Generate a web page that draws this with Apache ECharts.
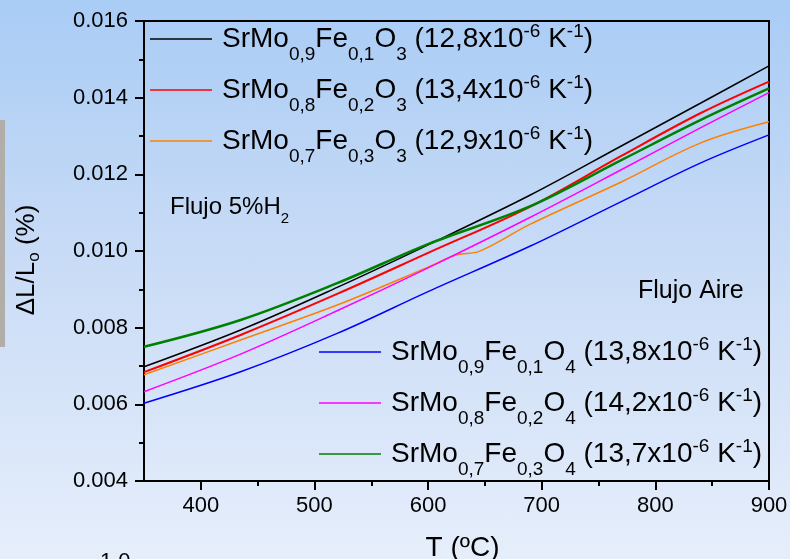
<!DOCTYPE html>
<html><head><meta charset="utf-8">
<script src="https://cdn.jsdelivr.net/npm/echarts@6/dist/echarts.min.js"></script>
<style>html,body{margin:0;padding:0;}#c{width:790px;height:559px;background:linear-gradient(to bottom,#a9ccf5 0%,#c8dbf6 45%,#e6eefb 100%);}</style>
</head><body><div id="c"></div><script>
// Data
const temps = [350, 435, 520, 600, 690, 770, 840, 900];
const tempsOrange = [350, 435, 520, 600, 625, 645, 690, 770, 840, 900];
const black_O3_09 = [0.00698, 0.00794, 0.00905, 0.01016, 0.01146, 0.01274, 0.01386, 0.01483];
const red_O3_08 = [0.00684, 0.00781, 0.00888, 0.00995, 0.01116, 0.01248, 0.01360, 0.01442];
const orange_O3_07 = [0.00677, 0.00768, 0.00859, 0.00958, 0.00990, 0.00999, 0.01070, 0.01180, 0.01282, 0.01337];
const blue_O4_09 = [0.00603, 0.00685, 0.00785, 0.00894, 0.01013, 0.01129, 0.01230, 0.01303];
const magenta_O4_08 = [0.00633, 0.00731, 0.00844, 0.00956, 0.01088, 0.01212, 0.01322, 0.01413];
const green_O4_07 = [0.00750, 0.00820, 0.00916, 0.01018, 0.01117, 0.01237, 0.01342, 0.01424];

const moFrac = ['0,9', '0,8', '0,7'];
const feFrac = ['0,1', '0,2', '0,3'];
const coefO3 = ['12,8', '13,4', '12,9'];
const coefO4 = ['13,8', '14,2', '13,7'];
const xTicks = [400, 500, 600, 700, 800, 900];
const xMinorTicks = [450, 550, 650, 750, 850];

const FONT = "'Liberation Sans', Arial, sans-serif";
function plainName(i, ox, coef) { return 'SrMo' + moFrac[i] + 'Fe' + feFrac[i] + 'O' + ox + ' (' + coef + 'x10-6 K-1)'; }
function richName(i, ox, coef) {
  return '{m|SrMo}{s|' + moFrac[i] + '}{m|Fe}{s|' + feFrac[i] + '}{m|O}{s|' + ox + '}{m| (' + coef + 'x10}{u|-6}{m| K}{u|-1}{m|)}';
}
const richMap = {};
const namesO3 = [0,1,2].map(i => { const n = plainName(i, '3', coefO3[i]); richMap[n] = richName(i, '3', coefO3[i]); return n; });
const namesO4 = [0,1,2].map(i => { const n = plainName(i, '4', coefO4[i]); richMap[n] = richName(i, '4', coefO4[i]); return n; });

function pairs(xs, ys) { return xs.map((x, k) => [x, ys[k]]); }

const legRich = {
  m: { fontSize: 28, fontFamily: FONT, color: '#000', lineHeight: 50 },
  s: { fontSize: 19, fontFamily: FONT, color: '#000', lineHeight: 19, verticalAlign: 'bottom' },
  u: { fontSize: 19, fontFamily: FONT, color: '#000', lineHeight: 38, verticalAlign: 'top', padding: [8, 0, 0, 0] }
};

function mkSeries(name, xs, ys, color, w) {
  return { type: 'line', name: name, data: pairs(xs, ys), xAxisIndex: 0, yAxisIndex: 0,
    symbol: 'none', smooth: 0.35, lineStyle: { color: color, width: w }, itemStyle: { color: color }, silent: true, animation: false };
}

const chart = echarts.init(document.getElementById('c'), null, { renderer: 'canvas' });
const option = {
  backgroundColor: 'transparent',
  animation: false,
  grid: [
    { left: 144, right: 21, top: 21, bottom: 78, show: true, borderColor: '#000', borderWidth: 2, backgroundColor: 'transparent', containLabel: false, outerBoundsMode: 'none' },
    { left: 144, right: 21, top: 21, bottom: 78, show: false, containLabel: false, outerBoundsMode: 'none' }
  ],
  xAxis: [
    { type: 'value', gridIndex: 0, min: 350, max: 900, position: 'bottom',
      axisLine: { show: true, lineStyle: { color: '#000', width: 2 } },
      axisTick: { show: true, customValues: xTicks, length: 9, lineStyle: { color: '#000', width: 2 } },
      axisLabel: { customValues: xTicks, fontSize: 22, color: '#000', fontFamily: FONT, margin: 14 },
      splitLine: { show: false },
      name: 'T (ºC)', nameLocation: 'middle', nameGap: 53, nameMoveOverlap: false,
      nameTextStyle: { fontSize: 28, color: '#000', fontFamily: FONT, padding: [0, 0, 0, 12] } },
    { type: 'value', gridIndex: 1, min: 350, max: 900, position: 'bottom',
      axisLine: { show: false },
      axisTick: { show: true, customValues: xMinorTicks, length: 5, lineStyle: { color: '#000', width: 2 } },
      axisLabel: { show: false }, splitLine: { show: false } }
  ],
  yAxis: [
    { type: 'value', gridIndex: 0, min: 0.004, max: 0.016, interval: 0.002, position: 'left',
      axisLine: { show: true, lineStyle: { color: '#000', width: 2 } },
      axisTick: { show: true, length: 9, lineStyle: { color: '#000', width: 2 } },
      minorTick: { show: true, splitNumber: 2, length: 5, lineStyle: { color: '#000', width: 2 } },
      axisLabel: { fontSize: 22, color: '#000', fontFamily: FONT, margin: 16, formatter: v => v.toFixed(3) },
      splitLine: { show: false },
      name: '{a|ΔL/L}{b|o}{a| (%)}', nameLocation: 'middle', nameGap: 101, nameMoveOverlap: false,
      nameTextStyle: { padding: [0, 18, 0, 0], rich: {
        a: { fontSize: 26, fontFamily: FONT, color: '#000', lineHeight: 32 },
        b: { fontSize: 17, fontFamily: FONT, color: '#000', lineHeight: 10, verticalAlign: 'bottom' } } } },
    { type: 'value', gridIndex: 1, min: 0.004, max: 0.016, interval: 0.002, show: false }
  ],
  legend: [
    { data: namesO3, orient: 'vertical', left: 150, top: 14, padding: 0, itemGap: 1, itemWidth: 62, itemHeight: 1.5, icon: 'rect',
      selectedMode: false, formatter: n => richMap[n], textStyle: { rich: legRich, padding: [0, 0, 0, 5] } },
    { data: namesO4, orient: 'vertical', left: 319, top: 327, padding: 0, itemGap: 1, itemWidth: 62, itemHeight: 1.5, icon: 'rect',
      selectedMode: false, formatter: n => richMap[n], textStyle: { rich: legRich, padding: [0, 0, 0, 5] } }
  ],
  series: [
    mkSeries(namesO3[0], temps, black_O3_09, '#000000', 1.5),
    mkSeries(namesO3[1], temps, red_O3_08, '#ff0000', 2),
    mkSeries(namesO3[2], tempsOrange, orange_O3_07, '#ff8000', 1.5),
    mkSeries(namesO4[0], temps, blue_O4_09, '#0000ff', 1.5),
    mkSeries(namesO4[1], temps, magenta_O4_08, '#ff00ff', 1.5),
    mkSeries(namesO4[2], temps, green_O4_07, '#008000', 2.5)
  ],
  graphic: [
    { type: 'rect', shape: { x: 0, y: 120, width: 5, height: 227 }, style: { fill: '#b1ada9' }, silent: true },
    { type: 'text', x: 170, y: 207, silent: true, style: { text: '{a|Flujo 5%H}{b|2}', verticalAlign: 'middle',
        rich: { a: { fontSize: 24, fontFamily: FONT, fill: '#000', color: '#000', lineHeight: 38 },
                b: { fontSize: 15, fontFamily: FONT, fill: '#000', color: '#000', lineHeight: 14, verticalAlign: 'bottom' } } } },
    { type: 'text', x: 638, y: 291, silent: true, style: { text: 'Flujo Aire', fontSize: 25, fontFamily: FONT, fill: '#000', verticalAlign: 'middle' } },
    { type: 'text', x: 100, y: 551, silent: true, style: { text: '1.0', fontSize: 22, fontFamily: FONT, fill: '#000', verticalAlign: 'top' } }
  ]
};
chart.setOption(option);
</script></body></html>
